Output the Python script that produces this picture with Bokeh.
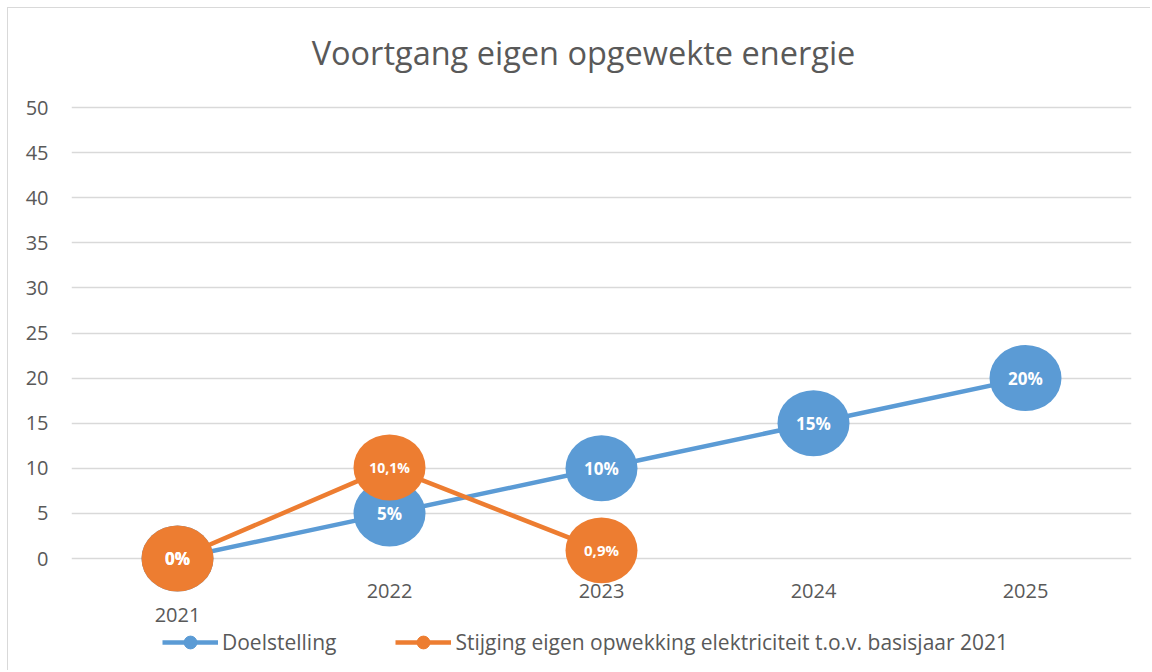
from bokeh.plotting import figure
from bokeh.models import (Range1d, FixedTicker, ColumnDataSource, Legend, LegendItem)
from bokeh.core.properties import value
from bokeh.embed import file_html
from bokeh.resources import INLINE

# ---------------- data ----------------
TITLE = "Voortgang eigen opgewekte energie"
categories = ["2021", "2022", "2023", "2024", "2025"]
doel_values = [0, 5, 10, 15, 20]
doel_labels = ["0%", "5%", "10%", "15%", "20%"]
stijging_values = [0, 10.1, 0.9]
stijging_labels = ["0%", "10,1%", "0,9%"]
series_names = ["Doelstelling",
                "Stijging eigen opwekking elektriciteit t.o.v. basisjaar 2021"]
y_ticks = [0, 5, 10, 15, 20, 25, 30, 35, 40, 45, 50]

# ---------------- styling / layout ----------------
FONT = "Open Sans"
GREY = "#595959"
BLUE = "#5B9BD5"
ORANGE = "#ED7D31"
W, H = 1143, 663            # + 1px css border on left/top
ORIGIN_X, ORIGIN_Y = 8, 8   # page position of canvas content
FRAME_L, FRAME_R = 71, 1131  # page x of frame
FRAME_T, FRAME_B = ORIGIN_Y, ORIGIN_Y + H  # page y of frame
Y0_PX, Y50_PX = 558, 107     # page y of values 0 and 50
PX_PER_UNIT = (Y0_PX - Y50_PX) / 50.0
N = len(categories)
PX_PER_CAT = (FRAME_R - FRAME_L) / N


def px_x(page_x):
    return (page_x - FRAME_L) / PX_PER_CAT


def px_y(page_y):
    return (Y0_PX - page_y) / PX_PER_UNIT


y_top = px_y(FRAME_T)
y_bot = px_y(FRAME_B)

p = figure(width=W, height=H, output_backend="svg", toolbar_location=None,
           x_range=Range1d(0, N), y_range=Range1d(y_bot, y_top),
           x_axis_location=None, y_axis_location="left",
           min_border_left=FRAME_L - ORIGIN_X,
           min_border_right=(ORIGIN_X + W) - FRAME_R,
           min_border_top=0, min_border_bottom=0,
           styles={"border-left": "1px solid #D9D9D9",
                   "border-top": "1px solid #D9D9D9",
                   "margin": "7px 0 0 7px"})
p.outline_line_color = None
p.background_fill_color = "white"
p.border_fill_color = "white"

ticker = FixedTicker(ticks=y_ticks)
yax = p.yaxis[0]
yax.ticker = ticker
yax.axis_line_color = None
yax.major_tick_line_color = None
yax.minor_tick_line_color = None
yax.major_tick_out = 0
yax.major_tick_in = 0
yax.major_label_standoff = 23
yax.major_label_text_font = FONT
yax.major_label_text_font_size = "20px"
yax.major_label_text_color = GREY
p.xgrid.visible = False
p.ygrid.ticker = ticker
p.ygrid.grid_line_color = "#D9D9D9"
p.ygrid.grid_line_width = 1.3

# title
p.text(x=[px_x(583)], y=[px_y(52)], text=[TITLE], text_font=value(FONT),
       text_font_size="32.5px", text_color=GREY, text_align="center",
       text_baseline="middle")

# category labels (first one sits lower, as in the reference)
cat_x = [i + 0.5 for i in range(N)]
cat_offsets_px = [56, 32, 32, 32, 32]
cat_y = [px_y(Y0_PX + o) for o in cat_offsets_px]
p.text(x=cat_x, y=cat_y, text=categories, text_font=value(FONT),
       text_font_size="20px", text_color=GREY, text_align="center",
       text_baseline="middle")

# series
doel_src = ColumnDataSource(dict(x=cat_x[:len(doel_values)], y=doel_values,
                                 lab=doel_labels,
                                 fs=["17px"] * len(doel_values)))
st_src = ColumnDataSource(dict(x=cat_x[:len(stijging_values)], y=stijging_values,
                               lab=stijging_labels,
                               fs=["17px", "14px", "15px"]))

MW, MH = 72, 66
leg_items = []
for name, col, src in zip(series_names, (BLUE, ORANGE), (doel_src, st_src)):
    lr = p.line("x", "y", source=src, line_color=col, line_width=4.5)
    p.ellipse("x", "y", width=MW, height=MH, width_units="screen",
              height_units="screen", source=src, fill_color=col,
              line_color=None)
    # small marker used only for the legend glyph
    sr = p.scatter("x", "y", source=src, marker="circle", size=13,
                   fill_color=col, line_color=col, visible=False)
    leg_items.append(LegendItem(label=name, renderers=[lr, sr]))

for src in (doel_src, st_src):
    p.text("x", "y", text="lab", source=src, text_font=value(FONT),
           text_font_style="bold", text_font_size="fs", text_color="white",
           text_align="center", text_baseline="middle")

legend = Legend(items=leg_items, orientation="horizontal",
                location=(162 - FRAME_L, FRAME_B - 658),
                glyph_width=56, glyph_height=32, label_standoff=4,
                spacing=59, padding=0, margin=0,
                label_text_font=FONT, label_text_font_size="21px",
                label_text_color=GREY, label_height=32,
                border_line_color=None, background_fill_alpha=0,
                inactive_fill_alpha=0)
p.add_layout(legend, "center")

open("out.html", "w").write(file_html(p, INLINE))
